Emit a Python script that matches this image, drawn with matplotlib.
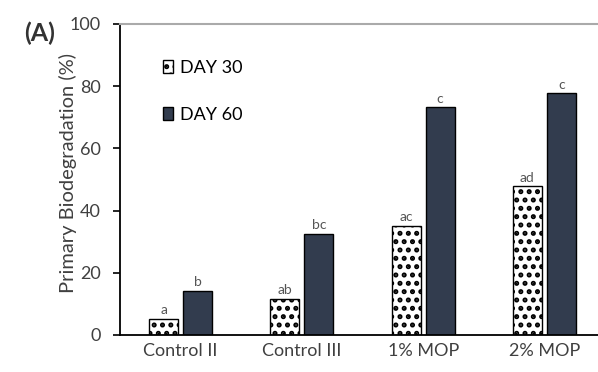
import numpy as np
import matplotlib.pyplot as plt

plt.rcParams['font.family'] = ['Lato', 'DejaVu Sans']
plt.rcParams['hatch.linewidth'] = 2.4

categories = ['Control II', 'Control III', '1% MOP', '2% MOP']
day30 = [5.2, 11.6, 35.2, 47.9]
day60 = [14.2, 32.5, 73.2, 77.8]
letters30 = ['a', 'ab', 'ac', 'ad']
letters60 = ['b', 'bc', 'c', 'c']

fig = plt.figure(figsize=(5.98, 3.72), dpi=100)
ax = fig.add_axes([0.2007, 0.0995, 0.811, 0.836])

x = np.arange(len(categories))
w = 0.24
ax.bar(x - 0.14, day30, width=w, color='white', edgecolor='black',
       hatch='..', linewidth=1.0, label='DAY 30')
ax.bar(x + 0.14, day60, width=w, color='#323c4e', edgecolor='black',
       linewidth=1.0, label='DAY 60')

for xi, v, t in zip(x - 0.14, day30, letters30):
    ax.text(xi, v + 0.8, t, ha='center', va='bottom', fontsize=10, color='#555555')
for xi, v, t in zip(x + 0.14, day60, letters60):
    ax.text(xi, v + 0.8, t, ha='center', va='bottom', fontsize=10, color='#555555')

ax.set_xlim(-0.5, 3.5)
ax.set_ylim(0, 100)
ax.set_yticks([0, 20, 40, 60, 80, 100])
ax.set_xticks(x)
ax.set_xticklabels(categories)
ax.tick_params(axis='x', length=0, pad=6, labelsize=13, labelcolor='#404040')
ax.tick_params(axis='y', length=5, width=1.2, pad=9, labelsize=13, labelcolor='#404040')

ax.spines['right'].set_visible(False)
ax.spines['top'].set_color('#aaaaaa')
ax.spines['top'].set_linewidth(1.5)
ax.spines['left'].set_linewidth(1.3)
ax.spines['bottom'].set_linewidth(1.3)

ax.set_ylabel('Primary Biodegradation (%)', fontsize=14.5, color='#404040')
ax.yaxis.set_label_coords(-0.088, 0.52)
fig.text(0.04, 0.89, '(A)', fontsize=18, fontweight='bold', color='#333333',
         va='baseline')

ax.legend(loc='upper left', bbox_to_anchor=(0.089, 0.884), frameon=False,
          borderpad=0, borderaxespad=0, fontsize=13, handlelength=0.55,
          handleheight=0.7, handletextpad=0.4, labelspacing=1.7)

fig.savefig('out.png', dpi=100)
